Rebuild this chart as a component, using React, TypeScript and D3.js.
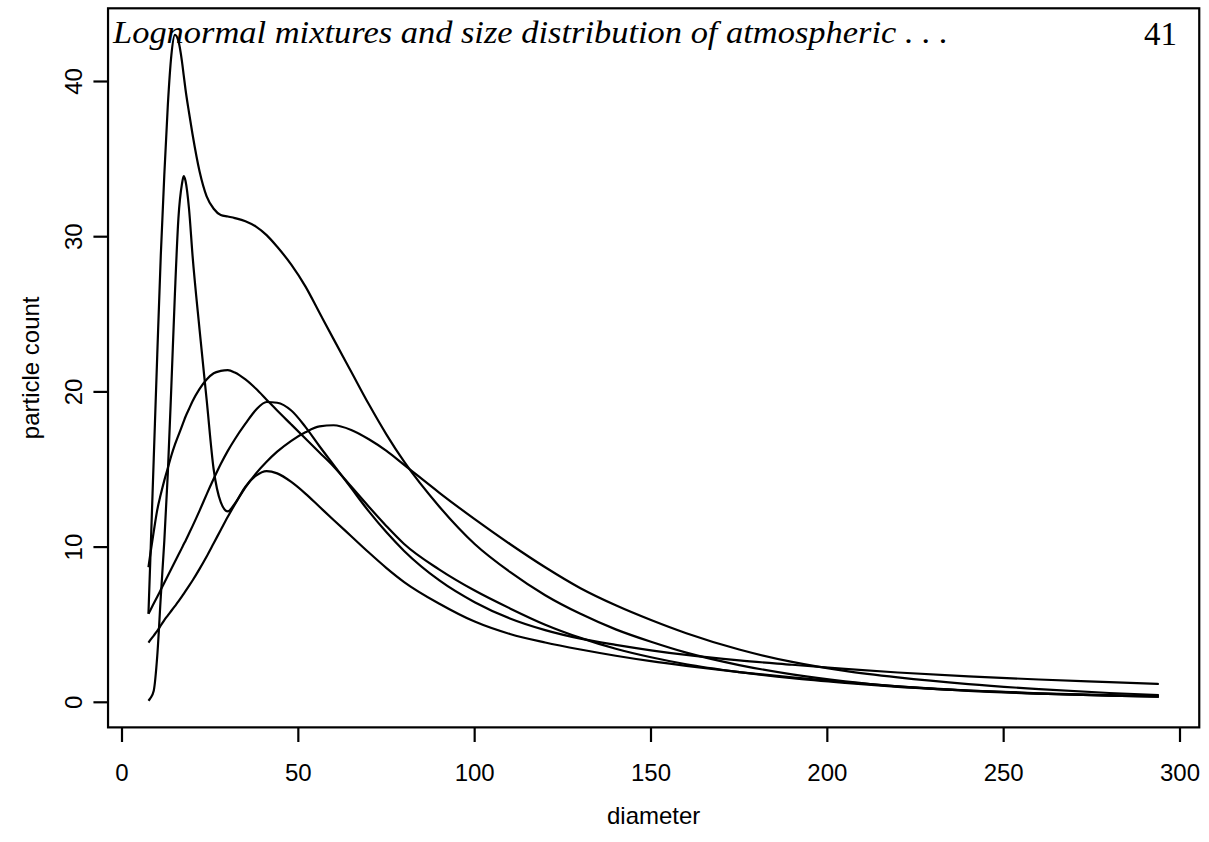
import React from "react";
import * as d3 from "d3";

const diameters = [7.5, 8, 9, 10, 11, 12, 13, 14, 15, 16, 17, 17.5, 18, 19, 20, 22, 24, 26, 28, 30, 32, 35, 38, 41, 44, 48, 52, 56, 60, 65, 70, 75, 80, 90, 100, 110, 120, 130, 140, 150, 160, 175, 190, 205, 220, 240, 260, 280, 294];

const seriesA = [5.7, 9.0, 15.7, 22.4, 28.8, 34.0, 38.5, 41.7, 43.0, 42.6, 41.3, 40.4, 39.5, 38.0, 36.6, 34.2, 32.6, 31.8, 31.4, 31.3, 31.2, 31.0, 30.65, 30.1, 29.35, 28.2, 26.8, 25.1, 23.4, 21.3, 19.2, 17.25, 15.5, 12.6, 10.2, 8.4, 6.9, 5.7, 4.7, 3.9, 3.2, 2.4, 1.8, 1.35, 1.02, 0.74, 0.56, 0.43, 0.37];
const seriesB = [0.1, 0.25, 0.75, 3.0, 6.8, 10.4, 14.8, 20.4, 26.3, 31.2, 33.4, 33.9, 33.6, 31.8, 28.8, 24.0, 19.5, 15.0, 12.9, 12.3, 12.8, 13.9, 14.6, 14.9, 14.75, 14.2, 13.45, 12.6, 11.75, 10.7, 9.65, 8.65, 7.75, 6.35, 5.2, 4.4, 3.85, 3.4, 3.0, 2.65, 2.35, 1.95, 1.6, 1.3, 1.03, 0.76, 0.56, 0.43, 0.37];
const seriesC = [8.7, 9.5, 11.0, 12.4, 13.4, 14.3, 15.1, 15.9, 16.6, 17.2, 17.8, 18.1, 18.4, 18.9, 19.4, 20.2, 20.8, 21.2, 21.35, 21.4, 21.25, 20.8, 20.2, 19.5, 18.8, 17.9, 17.0, 16.1, 15.2, 13.9, 12.6, 11.35, 10.2, 8.55, 7.2, 6.05, 5.0, 4.15, 3.45, 2.9, 2.45, 1.95, 1.55, 1.25, 1.0, 0.76, 0.58, 0.46, 0.4];
const seriesD = [5.7, 5.92, 6.36, 6.8, 7.25, 7.7, 8.15, 8.6, 9.05, 9.5, 9.95, 10.18, 10.4, 10.87, 11.35, 12.35, 13.4, 14.4, 15.35, 16.2, 16.95, 17.95, 18.85, 19.35, 19.3, 18.8, 17.75, 16.5, 15.3, 13.8, 12.3, 10.95, 9.75, 7.85, 6.45, 5.4, 4.65, 4.1, 3.7, 3.35, 3.05, 2.7, 2.42, 2.15, 1.92, 1.67, 1.47, 1.3, 1.18];
const seriesE = [3.84, 4.0, 4.3, 4.6, 4.95, 5.3, 5.6, 5.9, 6.2, 6.5, 6.82, 6.99, 7.16, 7.5, 7.85, 8.6, 9.4, 10.25, 11.1, 11.95, 12.75, 13.85, 14.75, 15.5, 16.15, 16.85, 17.4, 17.78, 17.85, 17.55, 16.95, 16.2, 15.3, 13.5, 11.8, 10.2, 8.7, 7.35, 6.25, 5.3, 4.45, 3.4, 2.6, 2.02, 1.6, 1.17, 0.85, 0.6, 0.47];

const xTicks = [0, 50, 100, 150, 200, 250, 300];
const yTicks = [0, 10, 20, 30, 40];

const headerText = "Lognormal mixtures and size distribution of atmospheric . . .";
const pageNumber = "41";
const xLabel = "diameter";
const yLabel = "particle count";

export default function App() {
  const W = 1209;
  const H = 842;
  const x = d3.scaleLinear().domain([0, 300]).range([122, 1180]);
  const y = d3.scaleLinear().domain([0, 40]).range([702.3, 81.5]);

  const all = [seriesA, seriesB, seriesC, seriesD, seriesE];
  const xMin = d3.min(diameters) as number;
  const xMax = d3.max(diameters) as number;
  const yMin = d3.min(all.flat()) as number;
  const yMax = d3.max(all.flat()) as number;
  const xPad = (xMax - xMin) * 0.04;
  const yPad = (yMax - yMin) * 0.04;
  const left = x(xMin - xPad);
  const right = x(xMax + xPad);
  const top = y(yMax + yPad);
  const bottom = y(yMin - yPad);

  const line = d3
    .line<number>()
    .x((_, i) => x(diameters[i]))
    .y((d) => y(d))
    .curve(d3.curveMonotoneX);

  const axisFont = "'Liberation Sans', Arial, Helvetica, sans-serif";
  const fs = 24;

  return (
    <svg
      width={W}
      height={H}
      viewBox={`0 0 ${W} ${H}`}
      style={{ position: "absolute", left: 0, top: 0, background: "#fff" }}
    >
      <rect x={0} y={0} width={W} height={H} fill="#fff" />
      {all.map((s, i) => (
        <path key={i} d={line(s) || ""} fill="none" stroke="#000" strokeWidth={2.2} strokeLinejoin="round" strokeLinecap="butt" />
      ))}
      <rect x={left} y={top} width={right - left} height={bottom - top} fill="none" stroke="#000" strokeWidth={2.2} />
      {xTicks.map((t) => (
        <g key={"x" + t}>
          <line x1={x(t)} x2={x(t)} y1={bottom} y2={bottom + 14.6} stroke="#000" strokeWidth={2.2} />
          <text x={x(t)} y={781} textAnchor="middle" fontFamily={axisFont} fontSize={fs} fill="#000">
            {t}
          </text>
        </g>
      ))}
      {yTicks.map((t) => (
        <g key={"y" + t}>
          <line x1={left} x2={left - 14.6} y1={y(t)} y2={y(t)} stroke="#000" strokeWidth={2.2} />
          <text
            transform={`translate(${82},${y(t)}) rotate(-90)`}
            textAnchor="middle"
            fontFamily={axisFont}
            fontSize={fs}
            fill="#000"
          >
            {t}
          </text>
        </g>
      ))}
      <text x={(left + right) / 2} y={824} textAnchor="middle" fontFamily={axisFont} fontSize={fs} fill="#000">
        {xLabel}
      </text>
      <text
        transform={`translate(${39},${(top + bottom) / 2}) rotate(-90)`}
        textAnchor="middle"
        fontFamily={axisFont}
        fontSize={fs}
        fill="#000"
      >
        {yLabel}
      </text>
      <text
        x={113}
        y={43}
        fontFamily="'Liberation Serif', 'DejaVu Serif', serif"
        fontStyle="italic"
        fontSize={32}
        textLength={835}
        lengthAdjust="spacingAndGlyphs"
        fill="#000"
      >
        {headerText}
      </text>
      <text x={1177} y={45} textAnchor="end" fontFamily="'Liberation Serif', 'DejaVu Serif', serif" fontSize={33} fill="#000">
        {pageNumber}
      </text>
    </svg>
  );
}
